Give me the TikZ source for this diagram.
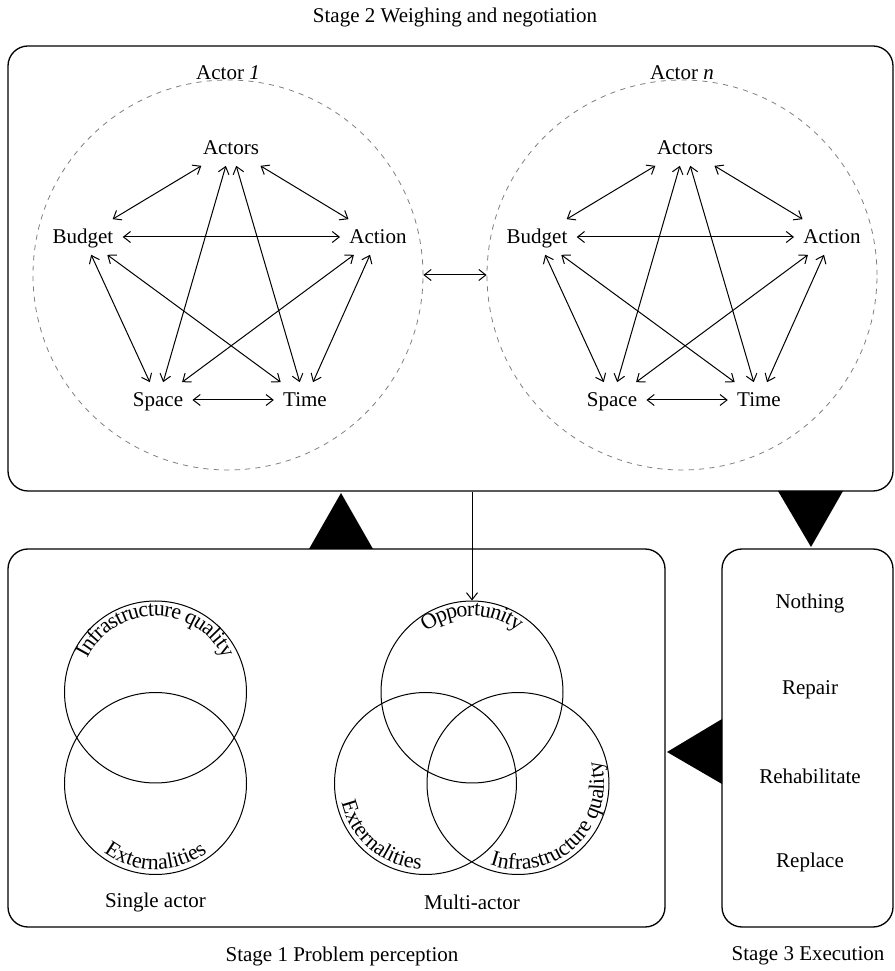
\documentclass[tikz,border=0pt]{standalone}
\usepackage{fontspec}
\setmainfont{Liberation Serif}
\usetikzlibrary{arrows.meta,decorations.text}

\tikzset{
  stagebox/.style={draw, rounded corners=10pt, line width=0.65pt, inner sep=0pt},
  actorring/.style={draw=gray, dash pattern=on 2.6pt off 2.6pt, line width=0.4pt, circle, minimum size=195pt, inner sep=0pt},
  venn/.style={draw, circle, minimum size=91pt, inner sep=0pt, line width=0.5pt},
  factor/.style={inner sep=4.5pt, text height=1.5ex, text depth=.25ex},
  link/.style={{Straight Barb[length=3.5pt,width=5.5pt]}-{Straight Barb[length=3.5pt,width=5.5pt]}, line width=0.5pt},
  tip/.style={-{Straight Barb[length=3.5pt,width=5.5pt]}, line width=0.5pt},
  rimtext/.style={decorate, decoration={text along path, text align=center, text={|\fontsize{11}{13}\selectfont|#1}}},
  rimtop/.style={decorate, decoration={text along path, text align=center, raise=-4pt, text={|\fontsize{11}{13}\selectfont|#1}}}
}

\begin{document}
\fontsize{10.5}{12.6}\selectfont
\begin{tikzpicture}[x=0.5pt, y=0.5pt]
\useasboundingbox (0,0) rectangle (895,971);

% Stage 2
\node[stagebox, minimum width=442.5pt, minimum height=222.5pt] (weigh) at (450.5,702.5) {};
\node (weightitle) at (455,954) {Stage 2 Weighing and negotiation};
\node[actorring] (a1) at (228,696) {};
\node[actorring] (an) at (682,696) {};
\node[inner sep=0pt] (a1name) at ([yshift=3.5pt]a1.north) {Actor \textit{1}};
\node[inner sep=0pt] (anname) at ([yshift=3.5pt]an.north) {Actor \textit{n}};
\draw[link] (a1) -- (an);

\foreach \c in {a1,an} {
  \node[factor] (\c-actors) at ([shift={(3,127)}]\c.center) {Actors};
  \node[factor] (\c-budget) at ([shift={(-145,38)}]\c.center) {Budget};
  \node[factor] (\c-action) at ([shift={(150,38)}]\c.center) {Action};
  \node[factor] (\c-space) at ([shift={(-70,-125)}]\c.center) {Space};
  \node[factor] (\c-time) at ([shift={(77,-125)}]\c.center) {Time};
  \foreach \u/\v in {budget/actors, actors/action, budget/action, actors/space, actors/time,
                     budget/space, budget/time, action/space, action/time, space/time}
    \draw[link] (\c-\u) -- (\c-\v);
}

% Stage 1
\node[stagebox, minimum width=328.5pt, minimum height=189pt] (percep) at (336.5,233) {};
\node (perceptitle) at (342,15) {Stage 1 Problem perception};
\node[venn] (sq) at (155.5,279) {};
\node[venn] (sx) at (155.5,187.5) {};
\node (single) at (155.5,69) {Single actor};
\node[venn] (mo) at (472,279) {};
\node[venn] (mx) at (425.5,187.5) {};
\node[venn] (mq) at (518,187.5) {};
\node (multi) at (472,69) {Multi-actor};

\path[rimtop=Infrastructure quality] ([shift={(180:84)}]sq.center) arc[start angle=180, end angle=0, radius=84];
\path[rimtext=Externalities] ([shift={(180:86)}]sx.center) arc[start angle=180, end angle=360, radius=86];
\path[rimtop=Opportunity] ([shift={(180:84)}]mo.center) arc[start angle=180, end angle=0, radius=84];
\path[rimtext=Externalities] ([shift={(140:86)}]mx.center) arc[start angle=140, end angle=320, radius=86];
\path[rimtext=Infrastructure quality] ([shift={(223:86)}]mq.center) arc[start angle=223, end angle=403, radius=86];

\draw[tip] (weigh.south -| mo) -- (mo);

% Stage 3
\node[stagebox, minimum width=85.5pt, minimum height=189pt] (exec) at (807.5,233) {};
\node (exectitle) at (808,15) {Stage 3 Execution};
\node (nothing) at (810,368) {Nothing};
\node (repair) at (810,281) {Repair};
\node (rehab) at (810,195) {Rehabilitate};
\node (replace) at (810,109) {Replace};

% flow between stages
\fill (309,422) -- (341,478) -- (373,422) -- cycle;
\fill (778,480) -- (811,424) -- (843,480) -- cycle;
\fill (722,252) -- (667,219) -- (722,187) -- cycle;
\end{tikzpicture}
\end{document}
